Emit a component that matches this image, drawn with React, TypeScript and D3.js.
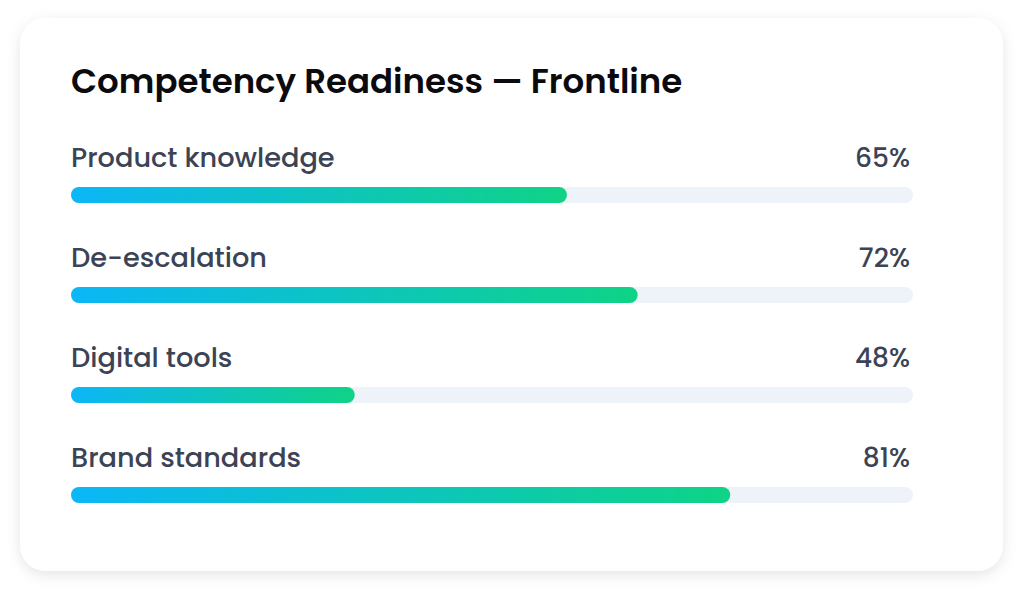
import React from "react";
import * as d3 from "d3";

const title = "Competency Readiness — Frontline";
const categories = ["Product knowledge", "De-escalation", "Digital tools", "Brand standards"];
const pctLabels = ["65%", "72%", "48%", "81%"];
// bar fill extent (0-100 scale)
const barValues = [58.9, 67.3, 33.7, 78.3];

const W = 1024;
const H = 593;

export default function App() {
  const x = d3.scaleLinear().domain([0, 100]).range([71, 913]);
  const y = d3.scaleBand<string>().domain(categories).range([145, 545]).padding(0);
  const barH = 16;
  const font = "Poppins, Inter, 'Noto Sans', sans-serif";
  return (
    <div style={{ position: "fixed", left: 0, top: 0, width: W, height: H, background: "#ffffff" }}>
      <svg width={W} height={H} viewBox={`0 0 ${W} ${H}`}>
        <defs>
          <filter id="shadow" x="-10%" y="-10%" width="120%" height="130%">
            <feDropShadow dx="0" dy="4" stdDeviation="7" floodColor="#000" floodOpacity="0.10" />
          </filter>
          <linearGradient id="barGrad" x1="0" y1="0" x2="1" y2="0">
            <stop offset="0%" stopColor="#0bb7f6" />
            <stop offset="100%" stopColor="#0fd386" />
          </linearGradient>
        </defs>
        <rect x={20} y={18} width={983} height={553} rx={26} fill="#ffffff" filter="url(#shadow)" />
        <text x={71} y={93} fontFamily={font} fontWeight={600} fontSize={34} fill="#0b0b0f">
          {title}
        </text>
        {categories.map((c, i) => {
          const y0 = y(c)!;
          const barY = y0 + 42;
          return (
            <g key={c}>
              <text x={71} y={y0 + 22} fontFamily={font} fontWeight={500} fontSize={27.2} fill="#3b4354">
                {c}
              </text>
              <text x={910} y={y0 + 22} fontFamily={font} fontWeight={500} fontSize={26.5} fill="#3b4354" textAnchor="end">
                {pctLabels[i]}
              </text>
              <rect x={x(0)} y={barY} width={x(100) - x(0)} height={barH} rx={barH / 2} fill="#eef3f9" />
              <rect x={x(0)} y={barY} width={x(barValues[i]) - x(0)} height={barH} rx={barH / 2} fill="url(#barGrad)" />
            </g>
          );
        })}
      </svg>
    </div>
  );
}
